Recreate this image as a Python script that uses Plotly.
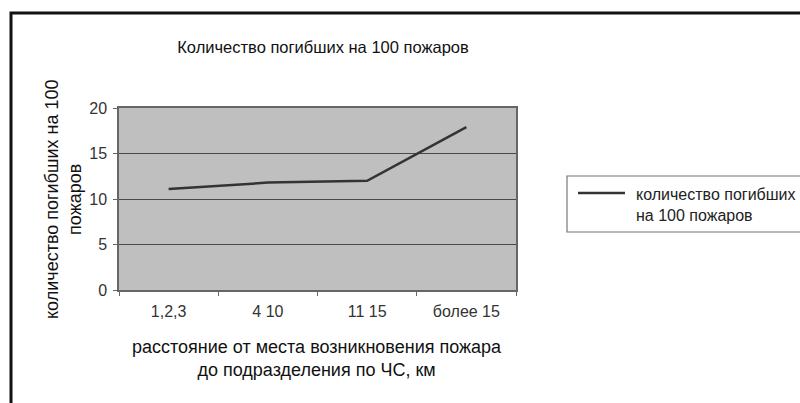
import plotly.graph_objects as go

# Distance from the fire to the emergency unit, km
categories = ["1,2,3", "4 10", "11 15", "более 15"]
# Deaths per 100 fires
deaths_per_100 = [11.1, 11.8, 12.0, 17.9]

y_ticks = [0, 5, 10, 15, 20]
series_name = "количество погибших<br>на 100 пожаров"

W, H = 800, 403
L, R, T, B = 119, 284, 108, 113
PW, PH = W - L - R, H - T - B


def px_x(x):
    return (x - L) / PW


def px_y(y):
    return (H - B - y) / PH


FONT = "Liberation Sans, Arial, sans-serif"
LINE_COLOR = "#333333"

fig = go.Figure()
fig.add_trace(go.Scatter(
    x=categories,
    y=deaths_per_100,
    mode="lines",
    line=dict(color=LINE_COLOR, width=2.5),
    name=series_name,
    showlegend=False,
))

fig.update_layout(
    width=W,
    height=H,
    margin=dict(l=L, r=R, t=T, b=B, pad=0),
    paper_bgcolor="white",
    plot_bgcolor="#bfbfbf",
    font=dict(family=FONT, color="#1a1a1a"),
    title=dict(
        text="Количество погибших на 100 пожаров",
        x=px_x(323), xref="paper", xanchor="center",
        y=1 - 47 / H, yref="container", yanchor="middle",
        font=dict(size=16.5, color="#111111"),
    ),
    xaxis=dict(
        type="category",
        range=[-0.5, 3.5],
        showgrid=False,
        showline=True, linecolor="#666666", linewidth=1.5,
        ticks="outside", ticklen=4, tickcolor="#666666",
        tickson="boundaries",
        tickfont=dict(size=16, color="#333333"),
        ticklabelstandoff=6,
        mirror=True,
        zeroline=False,
    ),
    yaxis=dict(
        range=[0, 20],
        tickvals=y_ticks,
        showgrid=True, gridcolor="#4a4a4a", gridwidth=1,
        showline=True, linecolor="#666666", linewidth=1.5,
        ticks="outside", ticklen=4, tickcolor="#666666",
        tickfont=dict(size=16, color="#333333"),
        ticklabelstandoff=3,
        mirror=True,
        zeroline=False,
    ),
    showlegend=False,
)

# axis titles
fig.add_annotation(
    text="количество погибших на 100<br>пожаров",
    xref="paper", yref="paper",
    x=px_x(63), y=px_y(200),
    showarrow=False, textangle=-90,
    font=dict(size=18, color="#111111"),
    xanchor="center", yanchor="middle",
)
fig.add_annotation(
    text="расстояние от места возникновения пожара<br>до подразделения по ЧС, км",
    xref="paper", yref="paper",
    x=px_x(317), y=px_y(358),
    showarrow=False,
    font=dict(size=18, color="#111111"),
    xanchor="center", yanchor="middle",
)

# outer chart frame
fig.add_shape(
    type="rect", xref="paper", yref="paper",
    x0=px_x(11), x1=px_x(815), y0=px_y(13), y1=px_y(415),
    line=dict(color="#111111", width=3),
    layer="below",
)

# legend box (runs off the right edge of the page)
fig.add_shape(
    type="rect", xref="paper", yref="paper",
    x0=px_x(567), x1=px_x(830), y0=px_y(176), y1=px_y(232),
    line=dict(color="#777777", width=1.2),
    fillcolor="white",
)
fig.add_shape(
    type="line", xref="paper", yref="paper",
    x0=px_x(578), x1=px_x(625), y0=px_y(193), y1=px_y(193),
    line=dict(color=LINE_COLOR, width=2.5),
)
fig.add_annotation(
    text=series_name,
    xref="paper", yref="paper",
    x=px_x(634), y=px_y(205),
    showarrow=False, align="left",
    font=dict(size=16, color="#222222"),
    xanchor="left", yanchor="middle",
)

fig.write_html("out.html")
